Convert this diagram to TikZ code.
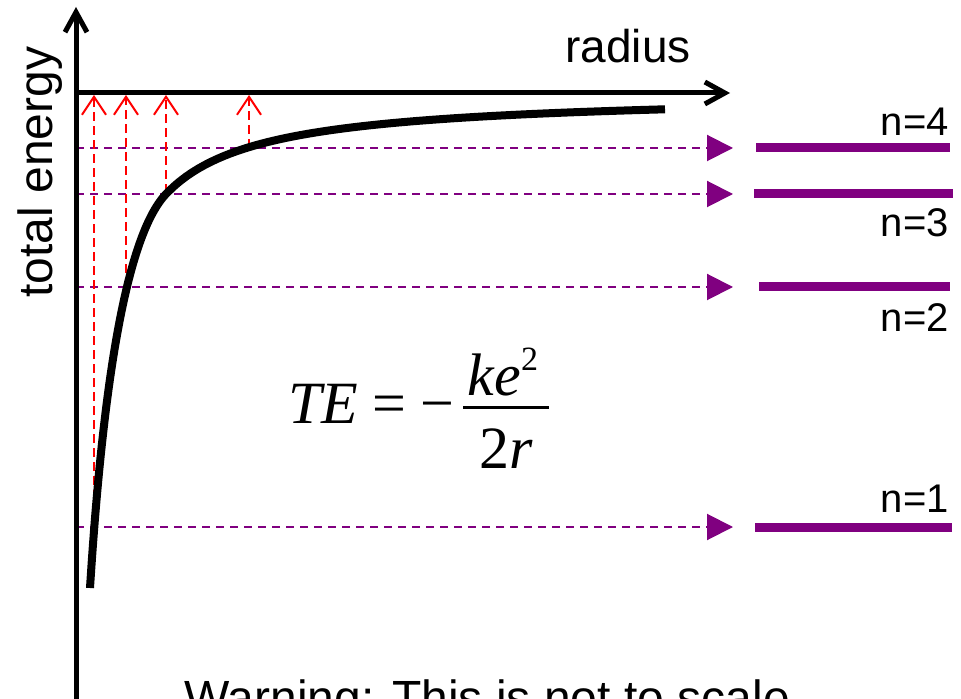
\documentclass[tikz,border=0pt]{standalone}
\usepackage{fontspec}
\setmainfont{Liberation Sans}
\newfontfamily\eqfont{Liberation Serif}
\usetikzlibrary{arrows.meta}
\definecolor{lvlpurple}{HTML}{800080}
\begin{document}
\begin{tikzpicture}[x=0.5pt,y=-0.5pt,
    axisline/.style={line width=2.5pt,-{Straight Barb[length=10pt,width=11pt]}},
    leveldash/.style={lvlpurple,line width=1pt,dash pattern=on 4pt off 3pt,-{Triangle[length=13pt,width=13pt]}},
    levelbar/.style={lvlpurple,line width=4.5pt},
    rise/.style={red,line width=1pt,dash pattern=on 4.5pt off 2.5pt,-{Straight Barb[length=9pt,width=12pt]}},
    lab/.style={font=\fontsize{20}{24}\selectfont,anchor=base east,inner sep=0pt},
    eq/.style={font=\eqfont\fontsize{30}{36}\selectfont,inner sep=0pt,anchor=base}]
  \useasboundingbox (0,0) rectangle (961,699);
  \coordinate (ybot) at (76,705);
  \coordinate (ytip) at (76,7);
  \coordinate (origin) at (76,93);
  \coordinate (xtip) at (730,93);

  \foreach \n/\y/\xa/\xb in {4/148/756/950,3/194/754/953,2/287/759/950,1/527/755/952} {
    \coordinate (s\n) at (76,\y);
    \coordinate (t\n) at (733,\y);
    \draw[leveldash] (s\n) -- (t\n);
    \draw[levelbar] (\xa,\y) coordinate (b\n) -- (\xb,\y) coordinate (e\n);
  }
  \foreach \n/\y in {4/136,3/237,2/332,1/512}
    \node[lab] (n\n) at (949,\y) {n=\n};

  \foreach \x/\y [count=\i] in {94/527,126/287,166/193,249/148} {
    \coordinate (r\i) at (\x,\y);
    \coordinate (q\i) at (\x,95);
    \draw[rise] (r\i) -- (q\i);
  }

  \draw[line width=4pt,line join=round] (90,588) .. controls (100,430) and (120,240) .. (167,193)
    -- plot[domain=167:665,samples=80] (\x,{93+9700/(\x-70)});

  \draw[axisline] (ybot) -- (ytip);
  \draw[axisline] (origin) -- (xtip);
  \node[font=\fontsize{23}{28}\selectfont,anchor=base] (radius) at (628,63) {radius};
  \node[font=\fontsize{24}{29}\selectfont,anchor=base,rotate=90] (energy) at (52,172) {total energy};

  \node[eq,anchor=base west] (te) at (288,423) {\itshape TE};
  \node[eq] (eqsign) at (389.5,423) {=};
  \node[eq] (minus) at (437.5,423) {−};
  \coordinate (barl) at (463,407);
  \coordinate (barr) at (549,407);
  \draw[line width=1.5pt] (barl) -- (barr);
  \node[eq] (num) at (503,395) {\itshape ke\upshape\raisebox{12.5pt}{\fontsize{17}{17}\selectfont 2}};
  \node[eq] (den) at (506,468) {2\itshape r};

  \node[font=\fontsize{24}{29}\selectfont,anchor=base] (warn) at (487,714) {Warning: This is not to scale};
\end{tikzpicture}
\end{document}
